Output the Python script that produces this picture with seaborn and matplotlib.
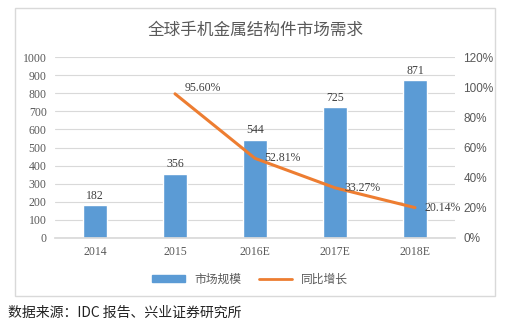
import matplotlib
matplotlib.use("Agg")
import matplotlib.pyplot as plt
import seaborn as sns
import pandas as pd
from matplotlib.patches import Rectangle, Patch
from matplotlib.lines import Line2D

years = ["2014", "2015", "2016E", "2017E", "2018E"]
market = [182, 356, 544, 725, 871]
growth_years = ["2015", "2016E", "2017E", "2018E"]
growth = [95.60, 52.81, 33.27, 20.14]

title = "全球手机金属结构件市场需求"
source = "数据来源：IDC 报告、兴业证券研究所"

sns.set_theme(style="white")
plt.rcParams['font.family'] = ['Noto Sans CJK SC', 'DejaVu Sans']

BLUE = "#5B9BD5"
ORANGE = "#ED7D31"
serif = ['Liberation Serif', 'DejaVu Serif']

W, H = 512, 331
fig = plt.figure(figsize=(W / 100, H / 100), dpi=100)
fig.patch.set_facecolor("white")

# outer box
fig.patches.append(Rectangle((15 / W, 1 - 296 / H), 480 / W, 288 / H, transform=fig.transFigure,
                             fill=False, edgecolor="#d9d9d9", linewidth=1.0))

ax = fig.add_axes([55 / W, 1 - 238 / H, 400 / W, 181 / H])
df = pd.DataFrame({"year": years, "market": market})
sns.barplot(data=df, x="year", y="market", color=BLUE, width=0.3, ax=ax, saturation=1)
ax.set_ylim(0, 1000)
ax.set_yticks(range(0, 1001, 100))
ax.set_xlim(-0.5, 4.5)
ax.yaxis.grid(True, color="#d9d9d9", linewidth=0.8)
ax.set_axisbelow(True)
for s in ax.spines.values():
    s.set_visible(False)
ax.spines['bottom'].set_visible(True)
ax.spines['bottom'].set_color("#d9d9d9")
ax.set_xlabel("")
ax.set_ylabel("")
ax.tick_params(axis='both', length=0, labelsize=8.5, colors="#595959", pad=6)
for lab in ax.get_xticklabels() + ax.get_yticklabels():
    lab.set_family(serif)
for i, v in enumerate(market):
    ax.text(i, v + 18, str(v), ha="center", va="bottom", fontsize=8.5, family=serif, color="#404040")

ax2 = ax.twinx()
pos = [years.index(y) for y in growth_years]
gdf = pd.DataFrame({"pos": pos, "growth": growth})
sns.lineplot(data=gdf, x="pos", y="growth", color=ORANGE, linewidth=2.2, ax=ax2)
ax2.set_ylim(0, 120)
ax2.set_yticks(range(0, 121, 20))
ax2.set_yticklabels([f"{t}%" for t in range(0, 121, 20)])
ax2.set_xlim(-0.5, 4.5)
for s in ax2.spines.values():
    s.set_visible(False)
ax2.set_ylabel("")
ax2.tick_params(axis='y', length=0, labelsize=8.5, colors="#595959", pad=6)
for lab in ax2.get_yticklabels():
    lab.set_family(['Liberation Sans', 'DejaVu Sans'])
for p, g in zip(pos, growth):
    ax2.text(p + 0.12, g, f"{g:.2f}%", ha="left", va="bottom" if p == 1 else "center",
             fontsize=8.5, family=serif, color="#404040")

fig.text(0.5, 1 - 30 / H, title, ha="center", va="center", fontsize=12, color="#595959")

handles = [Patch(facecolor=BLUE, edgecolor=BLUE), Line2D([0], [0], color=ORANGE, linewidth=2)]
fig.legend(handles, ["市场规模", "同比增长"], loc="center", bbox_to_anchor=(250 / W, 1 - 279 / H),
           ncol=2, frameon=False, fontsize=8.5, handlelength=2.8, handleheight=0.5,
           columnspacing=1.5, labelcolor="#595959")

fig.text(8 / W, 1 - 313 / H, source, ha="left", va="center", fontsize=10, color="#222222")

fig.savefig("out.png", dpi=100, facecolor="white")
